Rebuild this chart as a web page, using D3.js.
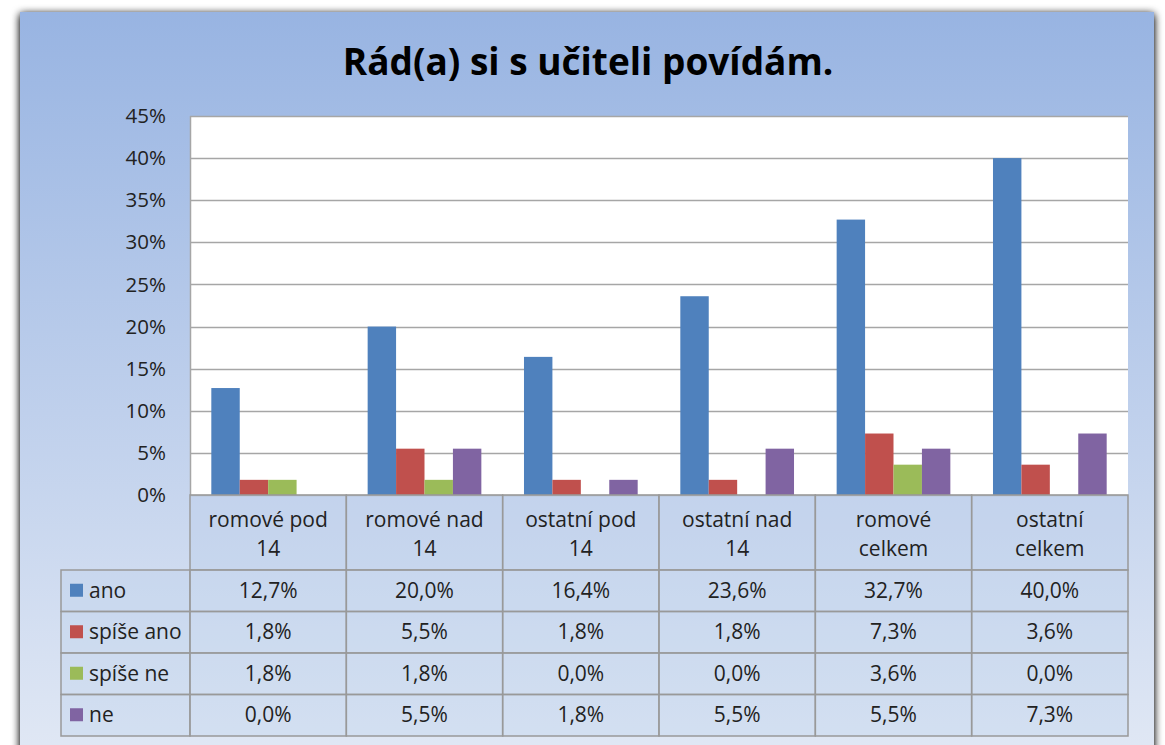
<!DOCTYPE html>
<html><head><meta charset="utf-8">
<script src="https://cdn.jsdelivr.net/npm/d3@7"></script>
<style>body{margin:0;background:#fff;}svg{display:block;}</style>
</head><body>
<script>
const title = "Rád(a) si s učiteli povídám.";
const categories = [["romové pod","14"],["romové nad","14"],["ostatní pod","14"],["ostatní nad","14"],["romové","celkem"],["ostatní","celkem"]];
const seriesNames = ["ano","spíše ano","spíše ne","ne"];
const seriesColors = ["#4f81bd","#c0504d","#9bbb59","#8064a2"];
const ano = [0.127,0.200,0.164,0.236,0.327,0.400];
const spiseAno = [0.018,0.055,0.018,0.018,0.073,0.036];
const spiseNe = [0.018,0.018,0.000,0.000,0.036,0.000];
const ne = [0.000,0.055,0.018,0.055,0.055,0.073];
const yTicks = [0,0.05,0.10,0.15,0.20,0.25,0.30,0.35,0.40,0.45];
const series = [ano, spiseAno, spiseNe, ne];

(function(){
const W=1165,H=745;
const svg=d3.select("body").append("svg").attr("width",W).attr("height",H);
const defs=svg.append("defs");
const g1=defs.append("linearGradient").attr("id","bg").attr("x1",0).attr("y1",0).attr("x2",0).attr("y2",1);
g1.append("stop").attr("offset","0").attr("stop-color","#98b4e2");
g1.append("stop").attr("offset","1").attr("stop-color","#e2e9f5");
const sh=defs.append("filter").attr("id","sh").attr("x","-5%").attr("y","-5%").attr("width","110%").attr("height","110%");
sh.append("feGaussianBlur").attr("in","SourceAlpha").attr("stdDeviation",4);
sh.append("feOffset").attr("dx",0).attr("dy",2).attr("result","b");
sh.append("feComponentTransfer").append("feFuncA").attr("type","linear").attr("slope",1.2);
const fm=sh.append("feMerge");fm.append("feMergeNode");fm.append("feMergeNode").attr("in","SourceGraphic");

svg.append("rect").attr("x",20).attr("y",12).attr("width",1134).attr("height",760)
  .attr("fill","url(#bg)").attr("filter","url(#sh)");

const font="'Open Sans', Lato, sans-serif";
svg.append("text").attr("x",588).attr("y",75).attr("text-anchor","middle")
  .attr("font-family",font).attr("font-weight","bold").attr("font-size",37).attr("fill","#000").text(title);

const pL=190,pR=1128,pT=116,pB=495;
const x=d3.scaleBand().domain(d3.range(categories.length)).range([pL,pR]);
const bw=x.bandwidth()/5.5;
const y=d3.scaleLinear().domain([0,0.45]).range([pB,pT]);

svg.append("rect").attr("x",pL).attr("y",pT).attr("width",pR-pL).attr("height",pB-pT).attr("fill","#fff");
svg.append("g").selectAll("line").data(yTicks).join("line")
  .attr("x1",pL).attr("x2",pR).attr("y1",d=>Math.round(y(d))+0.5).attr("y2",d=>Math.round(y(d))+0.5)
  .attr("stroke","#a6a6a6").attr("stroke-width",1.5);
svg.append("line").attr("x1",pL+0.5).attr("x2",pL+0.5).attr("y1",pT).attr("y2",pB).attr("stroke","#a6a6a6").attr("stroke-width",1.5);

const yAxis=d3.axisLeft(y).tickValues(yTicks).tickFormat(d=>Math.round(d*100)+"%").tickSize(0).tickPadding(24);
const ya=svg.append("g").attr("transform",`translate(${pL},0)`).call(yAxis);
ya.select(".domain").remove();
ya.selectAll("text").attr("font-family",font).attr("font-size",20.5).attr("fill","#222");

series.forEach((s,si)=>{
  svg.append("g").selectAll("rect").data(s).join("rect")
    .attr("x",(d,i)=>x(i)+bw*0.75+si*bw)
    .attr("y",d=>y(d)).attr("width",bw).attr("height",d=>y(0)-y(d))
    .attr("fill",seriesColors[si]);
});

const headerBottom=570, rowH=41.5, fs=21;
const tbl=svg.append("g");
const stroke="#999";
categories.forEach((c,i)=>{
  tbl.append("rect").attr("x",x(i)).attr("y",pB).attr("width",x.bandwidth()).attr("height",headerBottom-pB)
    .attr("fill","rgba(190,208,236,0.45)").attr("stroke",stroke).attr("stroke-width",1.5);
  c.forEach((t,k)=>{
    tbl.append("text").attr("x",x(i)+x.bandwidth()/2).attr("y",pB+32+k*29).attr("text-anchor","middle")
      .attr("font-family",font).attr("font-size",fs).attr("fill","#222").text(t);
  });
});
series.forEach((s,si)=>{
  const ry=headerBottom+si*rowH;
  tbl.append("rect").attr("x",61).attr("y",ry).attr("width",pL-61).attr("height",rowH)
    .attr("fill","rgba(190,208,236,0.35)").attr("stroke",stroke).attr("stroke-width",1.5);
  tbl.append("rect").attr("x",70).attr("y",ry+rowH/2-7).attr("width",13).attr("height",13).attr("fill",seriesColors[si]);
  tbl.append("text").attr("x",89).attr("y",ry+rowH/2+7).attr("font-family",font).attr("font-size",fs).attr("fill","#222").text(seriesNames[si]);
  s.forEach((v,i)=>{
    tbl.append("rect").attr("x",x(i)).attr("y",ry).attr("width",x.bandwidth()).attr("height",rowH)
      .attr("fill","rgba(190,208,236,0.35)").attr("stroke",stroke).attr("stroke-width",1.5);
    tbl.append("text").attr("x",x(i)+x.bandwidth()/2).attr("y",ry+rowH/2+7).attr("text-anchor","middle")
      .attr("font-family",font).attr("font-size",fs).attr("fill","#222").text((v*100).toFixed(1).replace(".",",")+"%");
  });
});
})();
</script>
</body></html>
